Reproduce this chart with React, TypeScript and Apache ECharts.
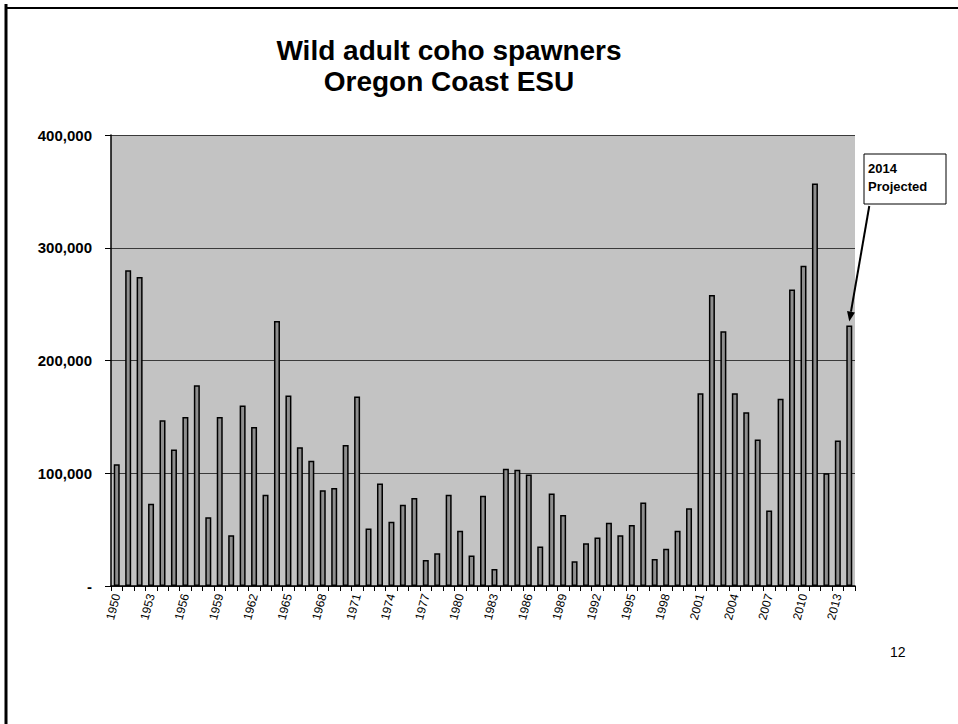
import React, { useEffect, useRef } from "react";
import * as echarts from "echarts";

const years: string[] = [];
for (let y = 1950; y <= 2014; y++) years.push(String(y));

const spawners: number[] = [
  108000, 280000, 274000, 73000, 147000, 121000, 150000, 178000, 61000, 150000,
  45000, 160000, 141000, 81000, 235000, 169000, 123000, 111000, 85000, 87000,
  125000, 168000, 51000, 91000, 57000, 72000, 78000, 23000, 29000, 81000,
  49000, 27000, 80000, 15000, 104000, 103000, 99000, 35000, 82000, 63000,
  22000, 38000, 43000, 56000, 45000, 54000, 74000, 24000, 33000, 49000,
  69000, 171000, 258000, 226000, 171000, 154000, 130000, 67000, 166000, 263000,
  284000, 357000, 100000, 129000, 231000,
];

const yTicks: number[] = [0, 100000, 200000, 300000, 400000];
const titleLines: string[] = ["Wild adult coho spawners", "Oregon Coast ESU"];
const annotationText = "2014\nProjected";
const pageNumber = "12";

export default function App() {
  const ref = useRef<HTMLDivElement>(null);
  useEffect(() => {
    if (!ref.current) return;
    const chart = echarts.init(ref.current, undefined, { renderer: "svg" });
    const font = "Liberation Sans, Arial, Helvetica, sans-serif";
    const baseGraphic = [
      { type: "line", shape: { x1: 6, y1: 4, x2: 6, y2: 724 }, style: { stroke: "#000", lineWidth: 3 } },
      { type: "line", shape: { x1: 5, y1: 8, x2: 958, y2: 8 }, style: { stroke: "#000", lineWidth: 2 } },
      {
        type: "text",
        x: 890,
        y: 652,
        style: { text: pageNumber, fontSize: 14, fill: "#000", fontFamily: font, textVerticalAlign: "middle" },
      },
    ];
    chart.setOption({
      animation: false,
      backgroundColor: "#ffffff",
      textStyle: { fontFamily: font },
      title: {
        text: titleLines.join("\n"),
        left: 444,
        top: 30,
        textAlign: "center",
        textStyle: {
          fontFamily: font,
          fontSize: 28,
          fontWeight: "bold",
          color: "#000",
          lineHeight: 31,
        },
      },
      grid: {
        left: 111,
        right: 103,
        top: 135,
        bottom: 138,
        show: true,
        backgroundColor: "#c3c3c3",
        borderWidth: 0,
      },
      xAxis: {
        type: "category",
        data: years,
        boundaryGap: true,
        axisLine: { show: true, lineStyle: { color: "#000", width: 1.5 } },
        axisTick: { show: true, interval: 0, length: 5, lineStyle: { color: "#000" } },
        axisLabel: {
          interval: 2,
          rotate: 75,
          fontSize: 12,
          color: "#000",
          margin: 8,
          fontFamily: font,
        },
        splitLine: { show: false },
      },
      yAxis: {
        type: "value",
        min: yTicks[0],
        max: yTicks[yTicks.length - 1],
        interval: yTicks[1] - yTicks[0],
        axisLine: { show: true, lineStyle: { color: "#000", width: 1.5 } },
        axisTick: { show: true, length: 6, lineStyle: { color: "#000" } },
        axisLabel: {
          fontSize: 15,
          fontWeight: "bold",
          color: "#000",
          margin: 19,
          fontFamily: font,
          formatter: (v: number) => (v === 0 ? "-" : v.toLocaleString("en-US")),
        },
        splitLine: { show: true, lineStyle: { color: "#3a3a3a", width: 1 } },
      },
      series: [
        {
          type: "bar",
          data: spawners,
          barWidth: 6,
          itemStyle: { color: "#8e8e8e", borderColor: "#000", borderWidth: 1.5 },
        },
      ],
      graphic: baseGraphic,
    });

    const last = spawners.length - 1;
    const tip = chart.convertToPixel({ seriesIndex: 0 }, [last, spawners[last]]) as number[];
    const tx = tip[0];
    const ty = tip[1] - 4;
    const sx = tx + 20;
    const sy = 206;
    const ang = Math.atan2(ty - sy, tx - sx);
    const hl = 10;
    const hw = 4;
    const bx = tx - hl * Math.cos(ang);
    const by = ty - hl * Math.sin(ang);
    const px = -Math.sin(ang) * hw;
    const py = Math.cos(ang) * hw;
    chart.setOption({
      graphic: [
        ...baseGraphic,
        {
          type: "rect",
          shape: { x: 864, y: 154, width: 82, height: 50 },
          style: { fill: "#fff", stroke: "#000", lineWidth: 1 },
        },
        {
          type: "text",
          x: 868,
          y: 159,
          style: {
            text: annotationText,
            fontSize: 13,
            fontWeight: "bold",
            fill: "#000",
            fontFamily: font,
            lineHeight: 18,
          },
        },
        {
          type: "line",
          shape: { x1: sx, y1: sy, x2: bx, y2: by },
          style: { stroke: "#000", lineWidth: 2 },
        },
        {
          type: "polygon",
          shape: { points: [[tx, ty], [bx + px, by + py], [bx - px, by - py]] },
          style: { fill: "#000" },
        },
      ],
    });
    return () => chart.dispose();
  }, []);
  return (
    <div
      ref={ref}
      style={{ position: "fixed", left: 0, top: 0, width: 958, height: 724, background: "#fff" }}
    />
  );
}
